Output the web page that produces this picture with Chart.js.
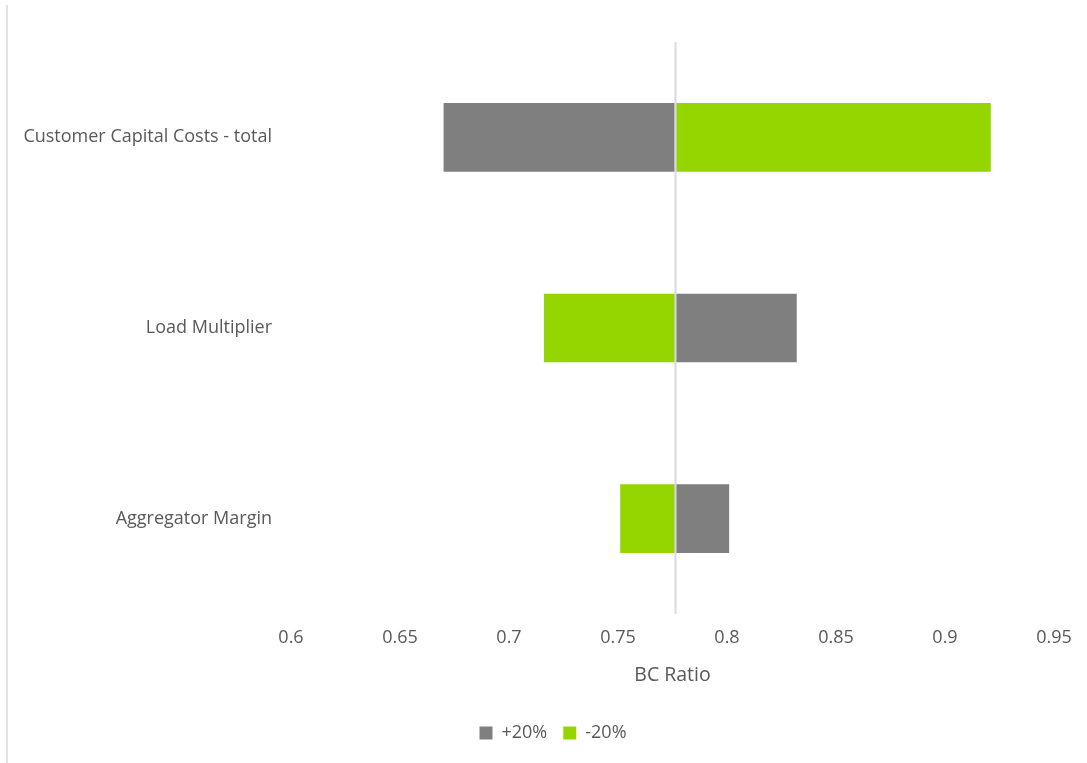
<!DOCTYPE html>
<html>
<head>
<meta charset="utf-8">
<script src="https://cdn.jsdelivr.net/npm/chart.js@4/dist/chart.umd.min.js"></script>
<style>
  html, body { margin: 0; padding: 0; background: #fff; }
  #wrap { position: relative; width: 1087px; height: 763px; }
  #frame { position: absolute; left: 6px; top: 5px; width: 2px; height: 758px; background: #e3e3e3; }
  canvas { position: absolute; left: 0; top: 0; }
</style>
</head>
<body>
<div id="wrap">
  <div id="frame"></div>
  <canvas id="c" width="1087" height="763"></canvas>
</div>
<script>
// Sensitivity of the BC ratio to each input (+/-20%)
const categories = ['Customer Capital Costs - total', 'Load Multiplier', 'Aggregator Margin'];
const baseRatio = 0.776;
const plus20 = [0.670, 0.832, 0.801];
const minus20 = [0.921, 0.716, 0.751];
const xTicks = [0.6, 0.65, 0.7, 0.75, 0.8, 0.85, 0.9, 0.95];

const textColor = '#595959';
const fontFamily = "'Open Sans', 'Liberation Sans', sans-serif";

// vertical reference line at the base-case ratio
const baseLine = {
  id: 'baseLine',
  afterDatasetsDraw(chart) {
    const { ctx, chartArea, scales } = chart;
    const x = Math.round(scales.x.getPixelForValue(baseRatio)) + 0.5;
    ctx.save();
    ctx.strokeStyle = '#d9d9d9';
    ctx.lineWidth = 2;
    ctx.beginPath();
    ctx.moveTo(x, chartArea.top);
    ctx.lineTo(x, chartArea.bottom);
    ctx.stroke();
    ctx.restore();
  }
};

// nudge the legend a little to the right of the canvas centre
const legendShift = {
  id: 'legendShift',
  afterLayout(chart) {
    const lg = chart.legend;
    if (lg) { lg.left += 26; lg.right += 26; }
  }
};

new Chart(document.getElementById('c'), {
  type: 'bar',
  data: {
    labels: categories,
    datasets: [
      {
        label: '+20%',
        data: plus20.map(v => [baseRatio, v]),
        backgroundColor: '#7f7f7f',
        grouped: false,
        barPercentage: 0.36,
        categoryPercentage: 1
      },
      {
        label: '-20%',
        data: minus20.map(v => [baseRatio, v]),
        backgroundColor: '#95d600',
        grouped: false,
        barPercentage: 0.36,
        categoryPercentage: 1
      }
    ]
  },
  options: {
    indexAxis: 'y',
    responsive: false,
    animation: false,
    layout: { padding: { top: 42, right: 33, left: 0, bottom: 11 } },
    scales: {
      x: {
        min: 0.6,
        max: 0.95,
        afterBuildTicks(axis) { axis.ticks = xTicks.map(v => ({ value: v })); },
        afterFit(axis) { axis.height = 94; },
        grid: { display: false, drawTicks: false },
        border: { display: false },
        ticks: {
          color: textColor,
          font: { family: fontFamily, size: 18 },
          padding: 13,
          callback: v => String(v)
        },
        title: {
          display: true,
          text: 'BC Ratio',
          color: textColor,
          font: { family: fontFamily, size: 19.5 },
          padding: { top: 10, bottom: 21 }
        }
      },
      y: {
        grid: { display: false, drawTicks: false },
        border: { display: false },
        afterFit(axis) { axis.width = 291; },
        ticks: {
          color: textColor,
          font: { family: fontFamily, size: 18 },
          padding: 19
        }
      }
    },
    plugins: {
      legend: {
        position: 'bottom',
        labels: {
          color: textColor,
          font: { family: fontFamily, size: 18 },
          boxWidth: 13,
          boxHeight: 13,
          padding: 16
        }
      },
      tooltip: { enabled: false }
    }
  },
  plugins: [baseLine, legendShift]
});
</script>
</body>
</html>
